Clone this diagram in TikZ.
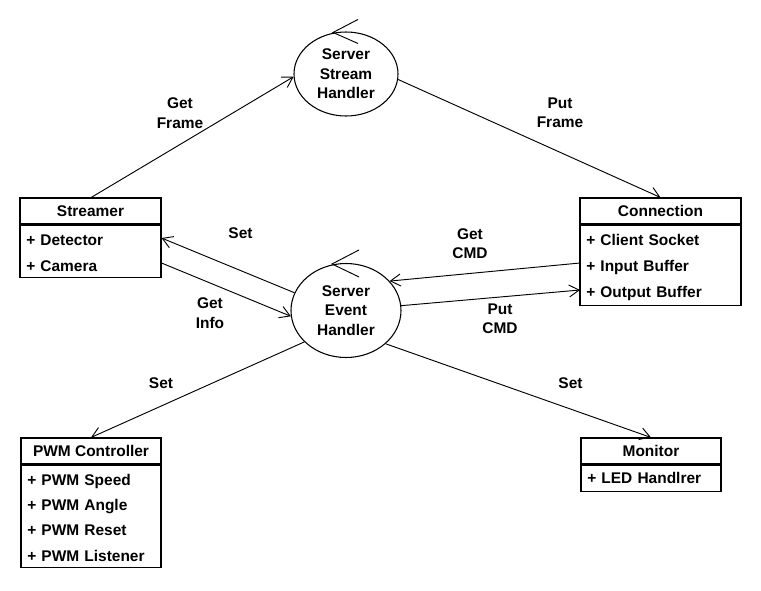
\documentclass[tikz,border=0pt]{standalone}
\usepackage{fontspec}
\setmainfont{Liberation Sans}
\usetikzlibrary{arrows.meta,shapes.geometric}
\begin{document}
\begin{tikzpicture}[x=0.75pt,y=-0.75pt,
  every node/.style={font=\bfseries\fontsize{11.6}{14.6}\selectfont},
  lbl/.style={align=center,inner sep=0pt},
  proc/.style={draw,ellipse,line width=0.8pt,inner sep=0pt,align=center},
  hdr/.style={draw,line width=0.8pt,minimum height=19.5pt,inner sep=0pt,text height=8.3pt,text depth=0pt},
  body/.style={draw,line width=0.8pt,anchor=north,inner sep=0pt},
  row/.style={anchor=west,inner xsep=4.5pt,inner ysep=0pt,minimum height=19.5pt,text height=8.3pt,text depth=0pt,text width=#1,align=left},
  conn/.style={line width=0.7pt,-{Straight Barb[length=7.5pt,width=9pt]}},
  selfarrow/.style={line width=0.7pt}
]
\useasboundingbox (0,0) rectangle (761,590);

% processes
\node[proc,minimum width=78pt,minimum height=63pt] (ssh) at (346,74) {Server\\Stream\\Handler};
\node[proc,minimum width=82.5pt,minimum height=70.5pt] (seh) at (346,310.5) {Server\\Event\\Handler};

% self-loop arrowheads
\coordinate (ssht) at ([shift={(-13,1)}]ssh.north);
\draw[selfarrow] ([shift={(25,-13)}]ssht) -- (ssht) -- ([shift={(25,11)}]ssht);
\coordinate (seht) at ([shift={(-14,1)}]seh.north);
\draw[selfarrow] ([shift={(27,-14)}]seht) -- (seht) -- ([shift={(27,13)}]seht);

% Streamer
\node[hdr,minimum width=105.75pt] (sthdr) at (90.5,211) {Streamer};
\node[body,minimum width=105.75pt,minimum height=39pt] (stbody) at (sthdr.south) {};
\node[row=96.75pt] (sdet) at (20,240) {+ Detector};
\node[row=96.75pt] (scam) at (20,266) {+ Camera};

% Connection
\node[hdr,minimum width=120.75pt] (cnhdr) at (660.5,211) {Connection};
\node[body,minimum width=120.75pt,minimum height=60pt] (cnbody) at (cnhdr.south) {};
\node[row=111.75pt] (csock) at (580,240) {+ Client Socket};
\node[row=111.75pt] (cin) at (580,266) {+ Input Buffer};
\node[row=111.75pt] (cout) at (580,292) {+ Output Buffer};

% PWM Controller
\node[hdr,minimum width=105pt] (pwhdr) at (91,451) {PWM Controller};
\node[body,minimum width=105pt,minimum height=76.5pt] (pwbody) at (pwhdr.south) {};
\node[row=96pt] (pws) at (21,480) {+ PWM Speed};
\node[row=96pt] (pwa) at (21,505) {+ PWM Angle};
\node[row=96pt] (pwr) at (21,530) {+ PWM Reset};
\node[row=96pt] (pwl) at (21,556) {+ PWM Listener};

% Monitor
\node[hdr,minimum width=105pt] (mohdr) at (651,451) {Monitor};
\node[body,minimum width=105pt,minimum height=19.5pt] (mobody) at (mohdr.south) {};
\node[row=96pt] (mled) at (581,478) {+ LED Handlrer};

% connectors
\draw[conn] ([xshift=0.5pt]sthdr.north) -- (ssh.183);
\draw[conn] (ssh.354) -- (cnhdr.north);
\draw[conn] (seh.161) -- ([yshift=1.5pt]sdet.east);
\draw[conn] ([yshift=2.25pt]scam.east) -- (seh.186);
\draw[conn] ([yshift=2.25pt]cin.west) -- (seh.34);
\draw[conn] (seh.5) -- ([yshift=1.5pt]cout.west);
\draw[conn] (seh.217) -- (pwhdr.north);
\draw[conn] (seh.320) -- (mohdr.north);

% labels
\node[lbl] (lgf) at (180,113) {Get\\Frame};
\node[lbl] (lpf) at (560,113) {Put\\Frame};
\node[lbl] (lss) at (240.5,233) {Set};
\node[lbl] (lgi) at (210,313) {Get\\Info};
\node[lbl] (lgc) at (470,243.5) {Get\\CMD};
\node[lbl] (lpc) at (500,318.5) {Put\\CMD};
\node[lbl] (lsp) at (161,383) {Set};
\node[lbl] (lsm) at (570.5,383) {Set};
\end{tikzpicture}
\end{document}
